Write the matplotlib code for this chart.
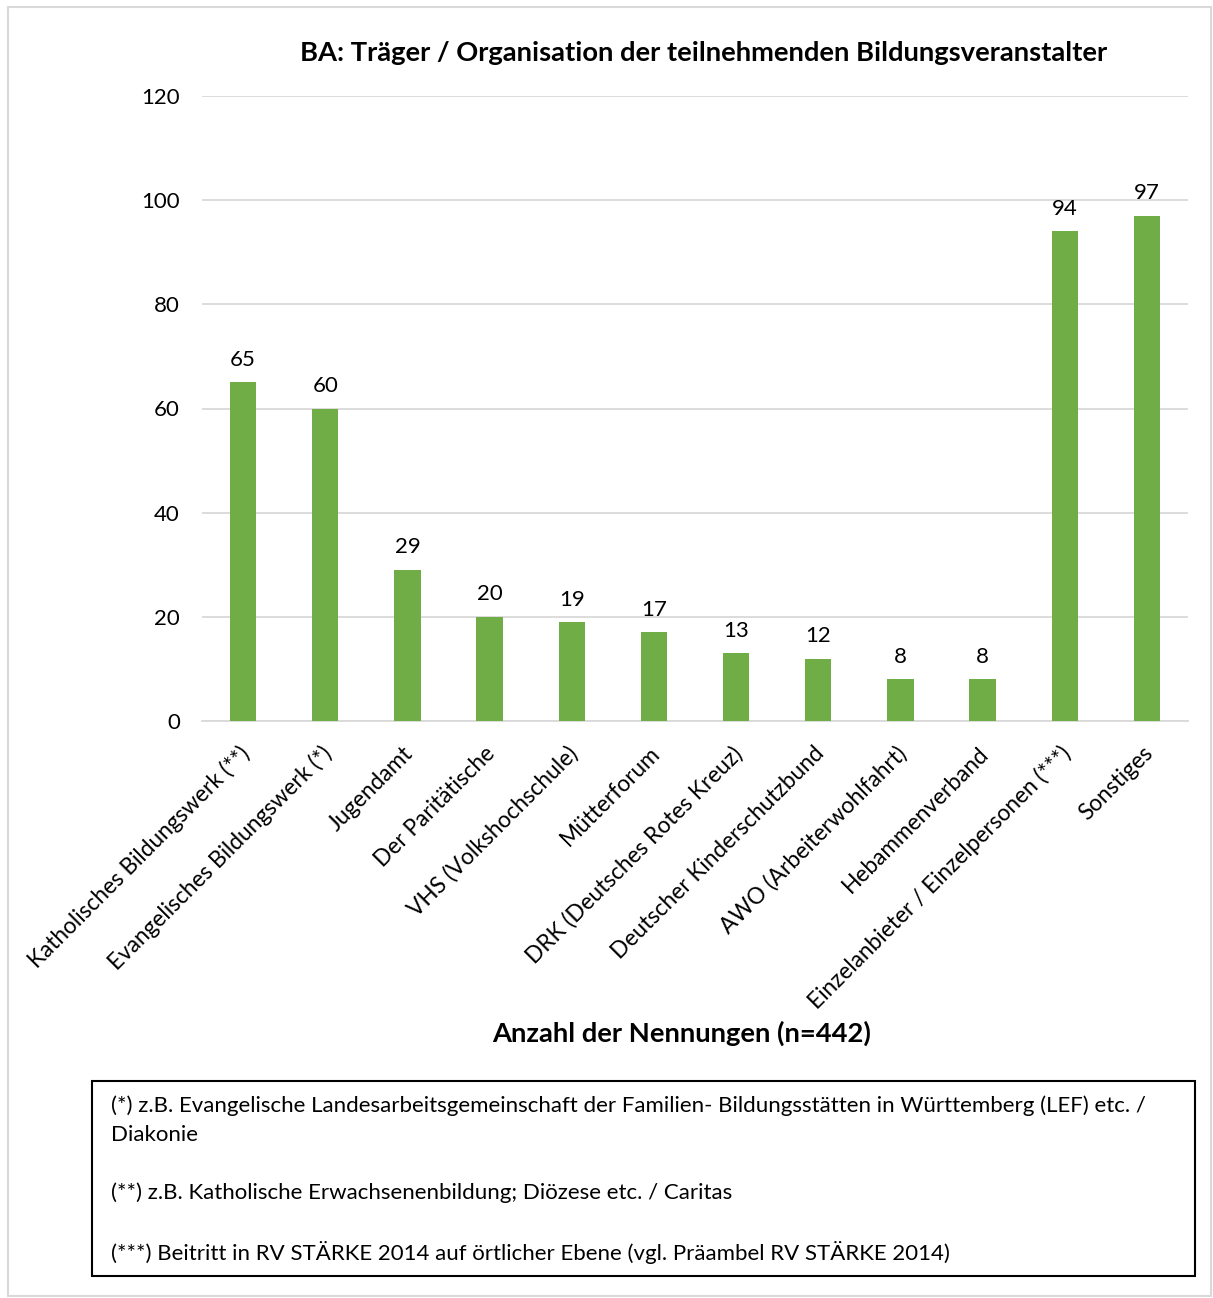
import matplotlib
matplotlib.use("Agg")
import matplotlib.pyplot as plt
from matplotlib.patches import Rectangle
from matplotlib.transforms import ScaledTranslation

plt.rcParams['font.family'] = ['Lato', 'DejaVu Sans']

categories = [
    "Katholisches Bildungswerk (**)",
    "Evangelisches Bildungswerk (*)",
    "Jugendamt",
    "Der Paritätische",
    "VHS (Volkshochschule)",
    "Mütterforum",
    "DRK (Deutsches Rotes Kreuz)",
    "Deutscher Kinderschutzbund",
    "AWO (Arbeiterwohlfahrt)",
    "Hebammenverband",
    "Einzelanbieter / Einzelpersonen (***)",
    "Sonstiges",
]
values = [65, 60, 29, 20, 19, 17, 13, 12, 8, 8, 94, 97]
yticks = [0, 20, 40, 60, 80, 100, 120]

title = "BA: Träger / Organisation der teilnehmenden Bildungsveranstalter"
xlabel = "Anzahl der Nennungen (n=442)"
footnotes = [
    "(*) z.B. Evangelische Landesarbeitsgemeinschaft der Familien- Bildungsstätten in Württemberg (LEF) etc. /\nDiakonie",
    "(**) z.B. Katholische Erwachsenenbildung; Diözese etc. / Caritas",
    "(***) Beitritt in RV STÄRKE 2014 auf örtlicher Ebene (vgl. Präambel RV STÄRKE 2014)",
]

W, H = 1213, 1298
fig = plt.figure(figsize=(W / 100, H / 100), dpi=100)
fig.patch.set_facecolor("white")

# outer light border
fig.add_artist(Rectangle((8 / W, 1 - 1296 / H), (1211 - 8) / W, (1296 - 7) / H,
                         transform=fig.transFigure, fill=False,
                         edgecolor="#d9d9d9", linewidth=1.5))

ax = fig.add_axes([202 / W, 1 - 721 / H, (1188 - 202) / W, (721 - 96) / H])
x = list(range(len(categories)))
bars = ax.bar(x, values, width=0.32, color="#70ad47", zorder=3)
ax.set_xlim(-0.5, len(categories) - 0.5)
ax.set_ylim(0, 120)
ax.set_yticks(yticks)
ax.set_yticklabels([str(t) for t in yticks], fontsize=16, color="#000000")
ax.yaxis.grid(True, color="#d9d9d9", linewidth=1.3, zorder=0)
ax.set_axisbelow(True)
for s in ["top", "right", "left"]:
    ax.spines[s].set_visible(False)
ax.spines["bottom"].set_color("#d9d9d9")
ax.spines["bottom"].set_linewidth(1.3)
ax.tick_params(axis="both", length=0)
ax.tick_params(axis="y", pad=16)
ax.set_xticks(x)
ax.set_xticklabels(categories, rotation=45, ha="right", rotation_mode="anchor",
                   fontsize=16.3)
ax.tick_params(axis="x", pad=14)
shift = ScaledTranslation(-5 / 100, -2 / 100, fig.dpi_scale_trans)
for lbl in ax.get_xticklabels():
    lbl.set_transform(lbl.get_transform() + shift)

for b, v in zip(bars, values):
    ax.annotate(str(v), (b.get_x() + b.get_width() / 2, v), xytext=(0, 9),
                textcoords="offset points", ha="center", va="bottom", fontsize=16)

fig.text(704 / W, 1 - 53 / H, title, ha="center", va="center",
         fontsize=19.7, fontweight="bold")
fig.text(682 / W, 1 - 1033 / H, xlabel, ha="center", va="center",
         fontsize=19.7, fontweight="bold")

# footnote box
fig.add_artist(Rectangle((92 / W, 1 - 1276 / H), (1195 - 92) / W, (1276 - 1081) / H,
                         transform=fig.transFigure, fill=False,
                         edgecolor="black", linewidth=1.5))
fig.text(111 / W, 1 - 1106 / H, footnotes[0].split("\n")[0], ha="left", va="center", fontsize=16)
fig.text(111 / W, 1 - 1135 / H, footnotes[0].split("\n")[1], ha="left", va="center", fontsize=16)
fig.text(111 / W, 1 - 1193 / H, footnotes[1], ha="left", va="center", fontsize=16)
fig.text(111 / W, 1 - 1252 / H, footnotes[2], ha="left", va="center", fontsize=16)

fig.savefig("out.png", dpi=100, facecolor="white")
